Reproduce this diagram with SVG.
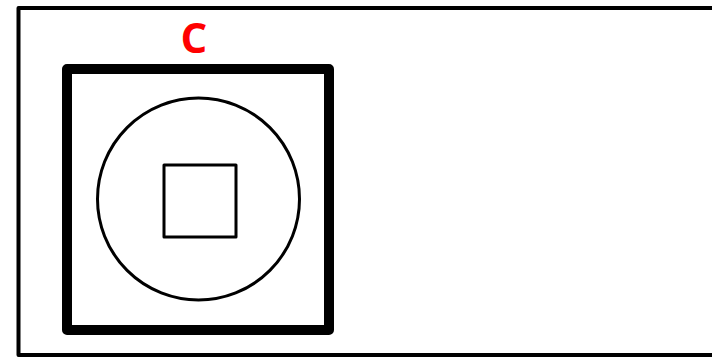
<svg xmlns="http://www.w3.org/2000/svg" width="712" height="357" viewBox="0 0 712 357">
<style>
.k{fill:none;stroke:#000;stroke-linejoin:round}
.lbl{font-family:"Open Sans","Liberation Sans",sans-serif;font-weight:bold;fill:#ff0000}
</style>
<rect width="712" height="357" fill="#fff"/>
<g id="frame"><rect class="k" x="18.5" y="8" width="700" height="347" stroke-width="4"/></g>
<g id="outer-square"><rect class="k" x="67" y="69" width="262" height="261" stroke-width="10"/></g>
<g id="circle"><circle class="k" cx="198.5" cy="199" r="101" stroke-width="3"/></g>
<g id="inner-square"><rect class="k" x="164" y="165" width="72" height="72" stroke-width="3"/></g>
<g id="label"><text class="lbl" x="194" y="53" font-size="42" text-anchor="middle">C</text></g>
</svg>
